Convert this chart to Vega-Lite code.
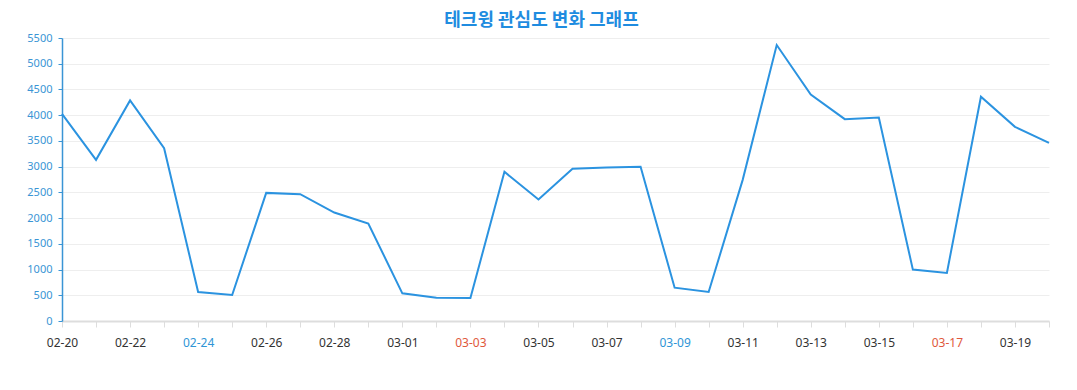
{
  "$schema": "https://vega.github.io/schema/vega-lite/v6.json",
  "autosize": "none",
  "width": 987,
  "height": 283,
  "padding": {"left": 62, "top": 38, "right": 28, "bottom": 69},
  "background": "white",
  "title": {
    "text": "테크윙 관심도 변화 그래프",
    "font": "Noto Sans CJK KR",
    "fontSize": 18,
    "fontWeight": "bold",
    "color": "#1f8ce0",
    "anchor": "middle",
    "dx": -14,
    "offset": 2
  },
  "data": {
    "values": [
      {"d": "02-20", "v": 4026},
      {"d": "02-21", "v": 3132},
      {"d": "02-22", "v": 4287},
      {"d": "02-23", "v": 3359},
      {"d": "02-24", "v": 564},
      {"d": "02-25", "v": 506},
      {"d": "02-26", "v": 2490},
      {"d": "02-27", "v": 2464},
      {"d": "02-28", "v": 2108},
      {"d": "02-29", "v": 1894},
      {"d": "03-01", "v": 538},
      {"d": "03-02", "v": 454},
      {"d": "03-03", "v": 447},
      {"d": "03-04", "v": 2899},
      {"d": "03-05", "v": 2361},
      {"d": "03-06", "v": 2957},
      {"d": "03-07", "v": 2983},
      {"d": "03-08", "v": 2996},
      {"d": "03-09", "v": 648},
      {"d": "03-10", "v": 564},
      {"d": "03-11", "v": 2743},
      {"d": "03-12", "v": 5363},
      {"d": "03-13", "v": 4403},
      {"d": "03-14", "v": 3923},
      {"d": "03-15", "v": 3956},
      {"d": "03-16", "v": 999},
      {"d": "03-17", "v": 934},
      {"d": "03-18", "v": 4358},
      {"d": "03-19", "v": 3774},
      {"d": "03-20", "v": 3463}
    ]
  },
  "mark": {"type": "line", "color": "#2b93e0", "strokeWidth": 2},
  "encoding": {
    "x": {
      "field": "d",
      "type": "ordinal",
      "sort": null,
      "scale": {"type": "point", "padding": 0},
      "axis": {
        "title": null,
        "labelAngle": 0,
        "labelOverlap": false,
        "labelExpr": "indexof(['02-20','02-22','02-24','02-26','02-28','03-01','03-03','03-05','03-07','03-09','03-11','03-13','03-15','03-17','03-19'], datum.value) >= 0 ? datum.value : ''",
        "labelColor": {"expr": "datum.value == '02-24' || datum.value == '03-09' ? '#2f95d6' : (datum.value == '03-03' || datum.value == '03-17' ? '#e0583c' : '#333333')"},
        "labelFont": "Noto Sans",
        "labelFontSize": 12,
        "labelPadding": 10,
        "domainColor": "#dddddd",
        "domainWidth": 2,
        "tickColor": "#dddddd",
        "tickSize": 6,
        "grid": false
      }
    },
    "y": {
      "field": "v",
      "type": "quantitative",
      "scale": {"domain": [0, 5500], "nice": false},
      "axis": {
        "title": null,
        "values": [0, 500, 1000, 1500, 2000, 2500, 3000, 3500, 4000, 4500, 5000, 5500],
        "format": "d",
        "labelFont": "Noto Sans",
        "labelFontSize": 11,
        "labelColor": "#3a95d5",
        "labelPadding": 6,
        "domainColor": "#3a95d5",
        "domainWidth": 1.5,
        "tickColor": "#3a95d5",
        "tickSize": 4,
        "gridColor": "#eeeeee",
        "gridWidth": 1
      }
    }
  },
  "config": {"view": {"stroke": null}}
}
